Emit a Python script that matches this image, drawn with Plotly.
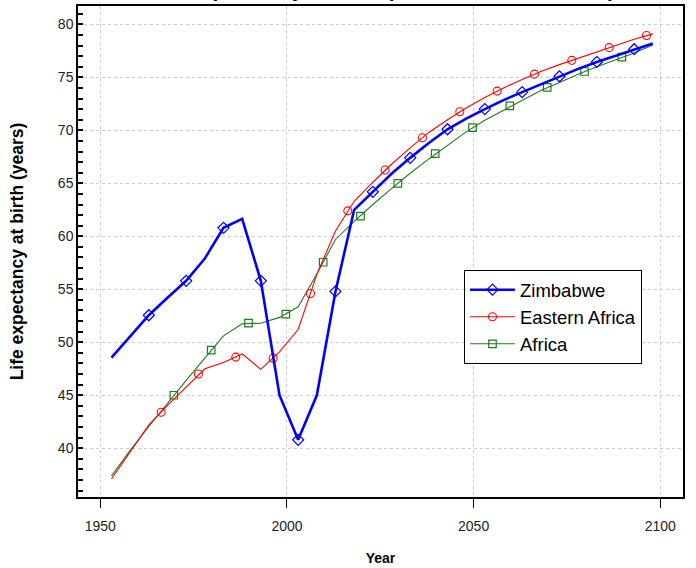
import plotly.graph_objects as go

years = [1953, 1958, 1963, 1968, 1973, 1978, 1983, 1988, 1993, 1998,
         2003, 2008, 2013, 2018, 2023, 2028, 2033, 2038, 2043, 2048,
         2053, 2058, 2063, 2068, 2073, 2078, 2083, 2088, 2093, 2098]

zimbabwe = [48.55, 50.6, 52.55, 54.2, 55.8, 57.9, 60.8, 61.65, 55.8, 45.0,
            40.8, 45.0, 54.8, 62.5, 64.2, 65.9, 67.4, 68.8, 70.1, 71.1,
            72.0, 72.85, 73.6, 74.35, 75.1, 75.8, 76.45, 77.05, 77.65, 78.2]

eastern_africa = [37.1, 39.7, 42.2, 44.05, 45.8, 47.5, 48.1, 48.9, 47.45, 49.1,
                  51.2, 56.4, 60.5, 63.3, 65.1, 66.8, 68.35, 69.8, 71.0, 72.1,
                  73.1, 74.0, 74.8, 75.55, 76.2, 76.8, 77.4, 77.95, 78.6, 79.1]

africa = [37.4, 39.8, 42.05, 44.25, 46.4, 48.5, 50.6, 51.75, 51.8, 52.35,
          53.35, 56.45, 59.7, 61.4, 63.0, 64.5, 65.95, 67.3, 68.55, 69.85,
          70.95, 71.9, 72.8, 73.75, 74.5, 75.3, 76.0, 76.65, 77.3, 78.05]

# marker positions
zim_marker_years = [1963, 1973, 1983, 1993, 2003, 2013, 2023, 2033, 2043, 2053,
                    2063, 2073, 2083, 2093]
zim_marker_values = [52.55, 55.8, 60.8, 55.8, 40.8, 54.8, 64.2, 67.4, 70.1, 72.0,
                     73.6, 75.1, 76.45, 77.65]

ea_marker_years = [1966.3, 1976.3, 1986.3, 1996.3, 2006.3, 2016.3, 2026.3, 2036.3,
                   2046.3, 2056.3, 2066.3, 2076.3, 2086.3, 2096.3]
ea_marker_values = [43.4, 47.0, 48.6, 48.5, 54.6, 62.4, 66.25, 69.3,
                    71.75, 73.7, 75.3, 76.6, 77.8, 78.95]

af_marker_years = [1969.7, 1979.7, 1989.7, 1999.7, 2009.7, 2019.7, 2029.7, 2039.7,
                   2049.7, 2059.7, 2069.7, 2079.7, 2089.7]
af_marker_values = [45.0, 49.25, 51.8, 52.65, 57.55, 61.9, 65.0, 67.8,
                    70.25, 72.3, 74.05, 75.55, 76.9]

x_ticks = [1950, 2000, 2050, 2100]
y_ticks = [40, 45, 50, 55, 60, 65, 70, 75, 80]

BLUE = "#0000FF"
RED = "#FF0000"
GREEN = "#1E7B1E"

DIAMOND = dict(symbol="diamond-open", size=8.5, color=BLUE, line=dict(width=1.2, color=BLUE))
CIRCLE = dict(symbol="circle-open", size=8, color=RED, line=dict(width=1.1, color=RED))
SQUARE = dict(symbol="square-open", size=7.5, color=GREEN, line=dict(width=1.2, color=GREEN))

fig = go.Figure()

# Africa
fig.add_trace(go.Scatter(x=years, y=africa, mode="lines",
                         line=dict(color=GREEN, width=1.1), showlegend=False))
fig.add_trace(go.Scatter(x=af_marker_years, y=af_marker_values, mode="markers",
                         marker=SQUARE, showlegend=False))
# Eastern Africa
fig.add_trace(go.Scatter(x=years, y=eastern_africa, mode="lines",
                         line=dict(color=RED, width=1.1), showlegend=False))
fig.add_trace(go.Scatter(x=ea_marker_years, y=ea_marker_values, mode="markers",
                         marker=CIRCLE, showlegend=False))
# Zimbabwe
fig.add_trace(go.Scatter(x=years, y=zimbabwe, mode="lines",
                         line=dict(color=BLUE, width=2.6), showlegend=False))
fig.add_trace(go.Scatter(x=zim_marker_years, y=zim_marker_values, mode="markers",
                         marker=DIAMOND, showlegend=False))

# legend entries
fig.add_trace(go.Scatter(x=[None], y=[None], mode="lines+markers", name="Zimbabwe",
                         line=dict(color=BLUE, width=2.6), marker=DIAMOND))
fig.add_trace(go.Scatter(x=[None], y=[None], mode="lines+markers", name="Eastern Africa",
                         line=dict(color=RED, width=1.1), marker=CIRCLE))
fig.add_trace(go.Scatter(x=[None], y=[None], mode="lines+markers", name="Africa",
                         line=dict(color=GREEN, width=1.1), marker=SQUARE))

font_family = "Liberation Sans, Arial, sans-serif"

fig.update_layout(
    width=696, height=568,
    margin=dict(l=78, r=13, t=6, b=71, autoexpand=False),
    paper_bgcolor="white", plot_bgcolor="white",
    font=dict(family=font_family, size=14, color="#222222"),
    showlegend=True,
    legend=dict(x=0.638, y=0.462, xanchor="left", yanchor="top",
                bordercolor="black", borderwidth=1, bgcolor="white",
                font=dict(size=18.5, color="black"), traceorder="normal",
                itemwidth=45),
    annotations=[dict(text="<b>Life expectancy at birth (both sexes combined)</b>",
                      x=0.5, y=1, xref="paper", yref="paper",
                      xanchor="center", yanchor="bottom", yshift=3,
                      showarrow=False, font=dict(size=21, color="black"))],
)

fig.update_xaxes(
    range=[1944.03, 2106.08], tickvals=x_ticks, ticktext=[str(v) for v in x_ticks],
    ticks="outside", ticklen=9, tickcolor="black", tickwidth=1,
    ticklabelstandoff=6,
    showline=True, linecolor="black", linewidth=1.5, mirror=True,
    showgrid=True, gridcolor="#cccccc", griddash="dot", gridwidth=1,
    zeroline=False,
    title=dict(text="<b>Year</b>", font=dict(size=14, color="black"), standoff=21),
    automargin=False,
)
fig.update_yaxes(
    range=[35.4, 81.73], tickvals=y_ticks, ticktext=[str(v) for v in y_ticks],
    ticks="inside", ticklen=5, tickcolor="black", tickwidth=1.5,
    minor=dict(dtick=1, ticks="inside", ticklen=5, tickcolor="black", tickwidth=1.5,
               showgrid=False),
    showline=True, linecolor="black", linewidth=1.5, mirror=True,
    showgrid=True, gridcolor="#cccccc", griddash="dot", gridwidth=1,
    zeroline=False,
    title=dict(text="<b>Life expectancy at birth (years)</b>",
               font=dict(size=17.5, color="black"), standoff=30),
    automargin=False,
)

fig.write_html("out.html",
               config={"displayModeBar": False},
               post_script="document.body.style.margin='0';document.body.style.padding='0';")
